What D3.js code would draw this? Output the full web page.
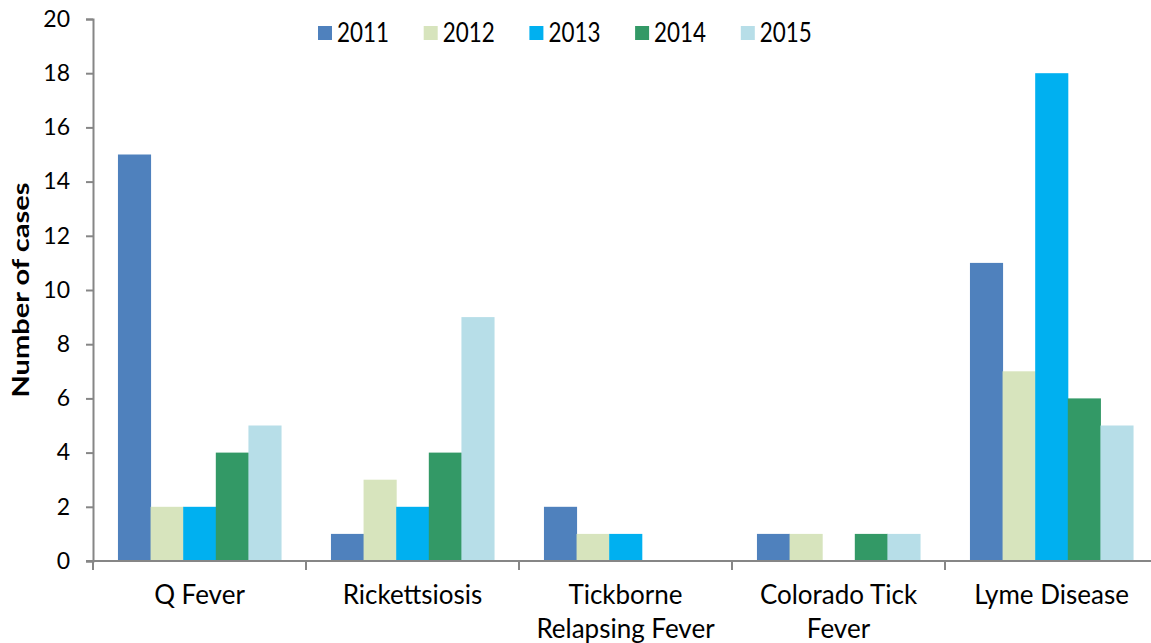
<!DOCTYPE html>
<html><head><meta charset="utf-8">
<script src="https://cdn.jsdelivr.net/npm/d3@7"></script>
<style>body{margin:0;background:#fff}svg{display:block}text{font-family:Lato,"Open Sans",sans-serif}</style>
</head><body>
<script>
const categories = ["Q Fever", "Rickettsiosis", "Tickborne\nRelapsing Fever", "Colorado Tick\nFever", "Lyme Disease"];
const years = ["2011", "2012", "2013", "2014", "2015"];
const v2011 = [15, 1, 2, 1, 11];
const v2012 = [2, 3, 1, 1, 7];
const v2013 = [2, 2, 1, 0, 18];
const v2014 = [4, 4, 0, 1, 6];
const v2015 = [5, 9, 0, 1, 5];
const yTicks = [0, 2, 4, 6, 8, 10, 12, 14, 16, 18, 20];
const colors = ["#4F81BD", "#D7E4BD", "#00B0F0", "#339966", "#B7DEE8"];
const series = [v2011, v2012, v2013, v2014, v2015];

const W = 1151, H = 643;
const svg = d3.select("body").append("svg").attr("width", W).attr("height", H);
const x0 = 93, band = 213;
const x = d3.scaleBand().domain(categories).range([x0, x0 + band * categories.length]);
const xi = d3.scaleBand().domain(years).range([0, band]).paddingOuter(0.765).paddingInner(0);
const y = d3.scaleLinear().domain([0, 20]).range([561, 19]);

// bars
categories.forEach((c, ci) => {
  const g = svg.append("g").attr("transform", `translate(${x(c)},0)`);
  years.forEach((yr, si) => {
    const v = series[si][ci];
    if (v > 0) g.append("rect").attr("x", xi(yr)).attr("width", xi.bandwidth() + 0.5)
      .attr("y", y(v)).attr("height", y(0) - y(v)).attr("fill", colors[si]);
  });
});

const axisColor = "#868686";
// y axis
const ya = svg.append("g").attr("transform", `translate(${x0},0)`)
  .call(d3.axisLeft(y).tickValues(yTicks).tickSize(7).tickPadding(16));
ya.select(".domain").attr("stroke", axisColor).attr("stroke-width", 2);
ya.selectAll(".tick line").attr("stroke", axisColor).attr("stroke-width", 2);
ya.selectAll(".tick text").attr("font-size", 23).attr("fill", "#000").attr("font-family", "Lato");

// x axis
svg.append("line").attr("x1", x0 - 7).attr("x2", W).attr("y1", y(0)).attr("y2", y(0))
  .attr("stroke", axisColor).attr("stroke-width", 2);
const bounds = d3.range(categories.length + 1).map(i => x0 + i * band);
svg.selectAll(".xt").data(bounds).enter().append("line")
  .attr("x1", d => d).attr("x2", d => d).attr("y1", y(0)).attr("y2", y(0) + 9)
  .attr("stroke", axisColor).attr("stroke-width", 2);

categories.forEach(c => {
  const lines = c.split("\n");
  const t = svg.append("text").attr("text-anchor", "middle").attr("font-size", 26).attr("fill", "#000");
  lines.forEach((l, i) => t.append("tspan").attr("x", x(c) + band / 2).attr("y", 604 + i * 34).text(l));
});

// y label
svg.append("text").attr("transform", "translate(29,290) rotate(-90)").attr("text-anchor", "middle")
  .attr("font-size", 23).attr("font-weight", "bold").attr("fill", "#000")
  .attr("textLength", 215).attr("lengthAdjust", "spacingAndGlyphs").text("Number of cases");

// legend
const leg = svg.append("g");
years.forEach((yr, i) => {
  const lx = 318 + i * 105.7;
  leg.append("rect").attr("x", lx).attr("y", 26).attr("width", 14).attr("height", 14).attr("fill", colors[i]);
  leg.append("text").attr("x", lx + 19).attr("y", 42).attr("font-size", 26).attr("fill", "#000")
    .attr("textLength", 52).attr("lengthAdjust", "spacingAndGlyphs").text(yr);
});
</script>
</body></html>
